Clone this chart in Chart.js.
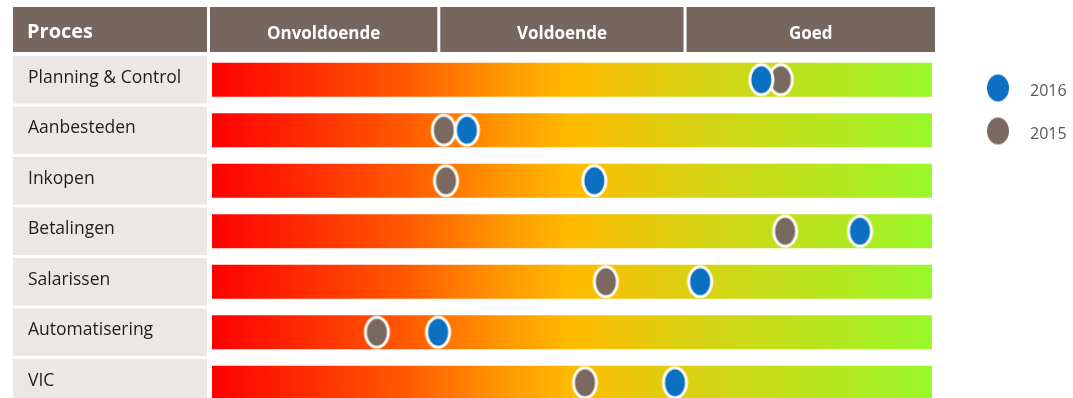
<!DOCTYPE html>
<html><head><meta charset="utf-8">
<script src="https://cdn.jsdelivr.net/npm/chart.js@4.4.0/dist/chart.umd.min.js"></script>
<style>
html,body{margin:0;padding:0;background:#fff;overflow:hidden;width:1073px;height:398px}
#wrap{position:relative;width:1073px;height:423px}
canvas{display:block}
</style>
</head><body><div id="wrap"><canvas id="c" width="1073" height="423" style="width:1073px;height:423px"></canvas></div>
<script>
// ---- data ----
const processes = ['Planning & Control','Aanbesteden','Inkopen','Betalingen','Salarissen','Automatisering','VIC'];
const scores2016 = [7.63, 3.54, 5.31, 9.00, 6.78, 3.14, 6.43];
const scores2015 = [7.90, 3.22, 3.25, 7.96, 5.47, 2.29, 5.18];
const seriesNames = ['2016', '2015'];
const zoneLabels = ['Onvoldoende', 'Voldoende', 'Goed'];
const zoneBounds = [0, 3.15, 6.57, 10];
const headerTitle = 'Proces';
const scaleMin = 0, scaleMax = 10;

// ---- styles ----
const BLUE = '#0b70c2', GREY = '#7a6961', BROWN = '#76665e', CELL = '#ebe7e4';
const FONT = "'Open Sans', 'DejaVu Sans', sans-serif";

function ellipseImage(color, rx, ry, border) {
  const c = document.createElement('canvas');
  c.width = Math.ceil(2 * (rx + border)) + 2;
  c.height = Math.ceil(2 * (ry + border)) + 2;
  const g = c.getContext('2d');
  g.beginPath();
  g.ellipse(c.width / 2, c.height / 2, rx, ry, 0, 0, Math.PI * 2);
  g.fillStyle = color;
  g.fill();
  if (border) { g.lineWidth = border; g.strokeStyle = '#fffdf6'; g.stroke(); }
  return c;
}
const blueDot = ellipseImage(BLUE, 11.5, 15, 3);
const greyDot = ellipseImage(GREY, 11.5, 15, 3);
const blueKey = ellipseImage(BLUE, 11, 13.5, 0);
const greyKey = ellipseImage(GREY, 11, 13.5, 0);

function gradientFill(ctx) {
  const chart = ctx.chart;
  if (!chart.chartArea) return '#ff8000';
  const xs = chart.scales.x;
  const g = chart.ctx.createLinearGradient(xs.getPixelForValue(scaleMin), 0, xs.getPixelForValue(scaleMax), 0);
  g.addColorStop(0, '#ff0000');
  g.addColorStop(0.13, '#ff2c00');
  g.addColorStop(0.27, '#ff5a00');
  g.addColorStop(0.40, '#ff9600');
  g.addColorStop(0.50, '#ffbb00');
  g.addColorStop(0.65, '#dccf10');
  g.addColorStop(0.82, '#bde21c');
  g.addColorStop(1, '#9af72a');
  return g;
}

const decor = {
  id: 'decor',
  beforeDraw(chart) {
    const ctx = chart.ctx, xs = chart.scales.x, ys = chart.scales.y;
    ctx.save();
    const hTop = 7, hBot = 52;
    ctx.fillStyle = BROWN;
    ctx.fillRect(13, hTop, 194, hBot - hTop);
    const last = zoneLabels.length - 1;
    zoneLabels.forEach((lab, i) => {
      const l = xs.getPixelForValue(zoneBounds[i]) + (i === 0 ? -2 : 1.5);
      const r = xs.getPixelForValue(zoneBounds[i + 1]) + (i === last ? 3 : -1.5);
      ctx.fillStyle = BROWN;
      ctx.fillRect(l, hTop, r - l, hBot - hTop);
      ctx.fillStyle = '#ffffff';
      ctx.font = "bold 17px " + FONT;
      ctx.textAlign = 'center';
      ctx.textBaseline = 'middle';
      ctx.fillText(lab, (l + r) / 2, 34);
    });
    ctx.fillStyle = '#ffffff';
    ctx.font = "bold 20px " + FONT;
    ctx.textAlign = 'left';
    ctx.textBaseline = 'middle';
    ctx.fillText(headerTitle, 27, 32);
    const band = (ys.bottom - ys.top) / processes.length;
    ctx.fillStyle = CELL;
    processes.forEach((p, i) => {
      const c = ys.getPixelForValue(i);
      ctx.fillRect(13, c - band / 2 + 1.5, 194, band - 3);
    });
    ctx.restore();
  },
  afterDraw(chart) {
    const ctx = chart.ctx;
    ctx.save();
    const items = [[blueKey, seriesNames[0], 88], [greyKey, seriesNames[1], 131]];
    ctx.font = "16px " + FONT;
    ctx.fillStyle = '#595959';
    ctx.textAlign = 'left';
    ctx.textBaseline = 'middle';
    items.forEach(([img, txt, y]) => {
      ctx.drawImage(img, 998 - img.width / 2, y - img.height / 2);
      ctx.fillText(txt, 1030, y + 3);
    });
    ctx.restore();
  }
};

new Chart(document.getElementById('c'), {
  type: 'bar',
  data: {
    labels: processes,
    datasets: [
      {
        type: 'line', label: seriesNames[0], order: 1,
        data: processes.map((p, i) => ({ x: scores2016[i], y: p })),
        showLine: false, pointStyle: blueDot, pointRadius: 14,
        backgroundColor: BLUE, borderColor: BLUE
      },
      {
        type: 'line', label: seriesNames[1], order: 2,
        data: processes.map((p, i) => ({ x: scores2015[i], y: p })),
        showLine: false, pointStyle: greyDot, pointRadius: 14,
        backgroundColor: GREY, borderColor: GREY
      },
      {
        type: 'bar', label: 'schaal', order: 3, indexAxis: 'y',
        data: processes.map(() => [scaleMin, scaleMax]),
        backgroundColor: gradientFill, borderWidth: 0,
        barPercentage: 0.675, categoryPercentage: 1
      }
    ]
  },
  options: {
    indexAxis: 'y',
    responsive: false,
    animation: false,
    events: [],
    layout: { padding: { left: 28, right: 141, top: 54.5, bottom: 0 } },
    plugins: { legend: { display: false }, tooltip: { enabled: false } },
    scales: {
      x: { type: 'linear', min: scaleMin, max: scaleMax, display: false },
      y: {
        type: 'category', labels: processes, offset: true,
        grid: { display: false }, border: { display: false },
        ticks: { crossAlign: 'far', color: '#1e1e1e', font: { family: FONT, size: 17.5 }, padding: 0, labelOffset: -2 },
        afterFit(scale) { scale.width = 212 - 28; scale.paddingTop = 0; scale.paddingBottom = 0; }
      }
    }
  },
  plugins: [decor]
});
</script>
</body></html>
